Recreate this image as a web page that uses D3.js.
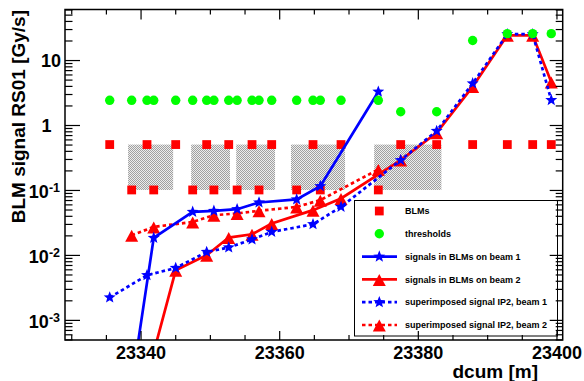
<!DOCTYPE html>
<html><head><meta charset="utf-8">
<script src="https://cdn.jsdelivr.net/npm/d3@7"></script>
<style>
html,body{margin:0;padding:0;background:#fff;}
svg{display:block;font-family:"Liberation Sans",Arial,Helvetica,sans-serif;font-weight:bold;}
</style>
</head><body>
<svg id="chart" width="584" height="381"></svg>
<script>
// ---- data ----
const blmDcum = [23335.55, 23338.72, 23340.93, 23341.90, 23345.07, 23347.52, 23349.54, 23350.58,
  23352.72, 23353.93, 23356.08, 23357.09, 23358.92, 23362.52, 23364.88, 23365.93, 23368.92,
  23374.30, 23377.53, 23382.72, 23387.91, 23392.91, 23396.57, 23399.25];
const blmLevel = [0.5, 0.1, 0.5, 0.1, 0.5, 0.1, 0.5, 0.1, 0.5, 0.1, 0.5, 0.1, 0.5, 0.1, 0.5, 0.1, 0.5,
  0.1, 0.5, 0.5, 0.5, 0.5, 0.5, 0.5];
const thresholds = [2.4, 2.4, 2.4, 2.4, 2.4, 2.4, 2.4, 2.4, 2.4, 2.4, 2.4, 2.4, 2.4, 2.4, 2.4, 2.4, 2.4,
  2.4, 1.6, 1.6, 20, 25.5, 25.5, 25.5];

const beam1Index = [1, 3, 5, 7, 9, 11, 13, 15, 17];
const signalBeam1 = [1.0e-4, 0.0183, 0.046, 0.0477, 0.0506, 0.0641, 0.0714, 0.1145, 3.25];

const beam2Index = [2, 4, 6, 8, 10, 12, 14, 16, 18, 19, 20, 21, 22, 23];
const signalBeam2 = [1.3e-4, 0.0058, 0.0099, 0.0185, 0.0208, 0.0305, 0.0489, 0.074, 0.288, 0.76, 3.9, 24, 24, 4.6];

const superBeam1Index = [0, 2, 4, 6, 8, 10, 12, 14, 16, 18, 19, 20, 21, 22, 23];
const superBeam1 = [0.00221, 0.00486, 0.0063, 0.0111, 0.0130, 0.0173, 0.0226, 0.0297, 0.0549, 0.288, 0.81, 4.37, 25, 25, 2.42];

const superBeam2Index = [1, 3, 5, 7, 9, 11, 13, 15, 17];
const superBeam2 = [0.0201, 0.0270, 0.0322, 0.0409, 0.0435, 0.0477, 0.0549, 0.0697, 0.207];

const boxStart = [23338.2, 23347.3, 23353.8, 23361.7, 23373.7];
const boxEnd   = [23344.7, 23352.9, 23359.4, 23369.5, 23383.4];
const boxLow = 0.1, boxHigh = 0.5;

const xTickLabels = [23340, 23360, 23380, 23400];
const yTickValues = [1e-3, 1e-2, 1e-1, 1, 10];
const yTickBase = ["10", "10", "10", "1", "10"];
const yTickExp  = ["-3", "-2", "-1", "", ""];

const legendLabels = ["BLMs", "thresholds", "signals in BLMs on beam 1", "signals in BLMs on beam 2",
  "superimposed signal IP2, beam 1", "superimposed signal IP2, beam 2"];

// ---- layout ----
const L = 65, R = 562.7, T = 9.5, B = 340;
const svg = d3.select("#chart");
const x = d3.scaleLinear().domain([23329.1, 23400.9]).range([L, R]);
const y = d3.scaleLog().domain([4.9e-4, 60]).range([B, T]);

const BLUE = "#0000ff", RED = "#ff0000", GREEN = "#00ff00";

const defs = svg.append("defs");
const pat = defs.append("pattern").attr("id", "hatch").attr("patternUnits", "userSpaceOnUse")
  .attr("width", 2).attr("height", 2);
pat.append("rect").attr("width", 2).attr("height", 2).attr("fill", "#ececec");
pat.append("rect").attr("width", 1).attr("height", 1).attr("fill", "#a0a0a0");
pat.append("rect").attr("x", 1).attr("y", 1).attr("width", 1).attr("height", 1).attr("fill", "#a0a0a0");
defs.append("clipPath").attr("id", "clip").append("rect")
  .attr("x", L).attr("y", T).attr("width", R - L).attr("height", B - T);

function starPath(ro, ri) {
  const pts = [];
  for (let i = 0; i < 10; i++) {
    const a = -Math.PI / 2 + i * Math.PI / 5;
    const r = i % 2 === 0 ? ro : ri;
    pts.push([r * Math.cos(a), r * Math.sin(a)]);
  }
  return "M" + pts.map(p => p[0].toFixed(2) + "," + p[1].toFixed(2)).join("L") + "Z";
}
const STAR = starPath(6.3, 2.7);
const TRI = "M0,-5.5L6.5,6.5L-6.5,6.5Z";

const plot = svg.append("g").attr("clip-path", "url(#clip)");

// boxes
plot.selectAll("rect.box").data(boxStart).join("rect").attr("class", "box")
  .attr("x", (d, i) => x(d)).attr("width", (d, i) => x(boxEnd[i]) - x(d))
  .attr("y", y(boxHigh)).attr("height", y(boxLow) - y(boxHigh))
  .attr("fill", "url(#hatch)");

// BLM squares
plot.selectAll("rect.blm").data(blmDcum).join("rect").attr("class", "blm")
  .attr("x", d => x(d) - 4.4).attr("y", (d, i) => y(blmLevel[i]) - 4.4)
  .attr("width", 8.8).attr("height", 8.8).attr("fill", RED);

function series(idx, vals) { return idx.map((k, i) => ({ x: blmDcum[k], v: vals[i] })); }
const line = d3.line().x(d => x(d.x)).y(d => y(d.v));

const seriesDefs = [
  { data: series(beam2Index, signalBeam2), color: RED, dash: null, marker: TRI },
  { data: series(superBeam2Index, superBeam2), color: RED, dash: "3.5,3", marker: TRI },
  { data: series(beam1Index, signalBeam1), color: BLUE, dash: null, marker: STAR },
  { data: series(superBeam1Index, superBeam1), color: BLUE, dash: "3.5,3", marker: STAR }
];
seriesDefs.forEach(s => {
  plot.append("path").datum(s.data).attr("d", line).attr("fill", "none")
    .attr("stroke", s.color).attr("stroke-width", 2.7)
    .attr("stroke-dasharray", s.dash);
  plot.selectAll(null).data(s.data.filter(d => d.v >= y.domain()[0])).join("path")
    .attr("d", s.marker).attr("transform", d => `translate(${x(d.x)},${y(d.v)})`)
    .attr("fill", s.color);
});

// thresholds
plot.selectAll("circle.thr").data(blmDcum).join("circle").attr("class", "thr")
  .attr("cx", d => x(d)).attr("cy", (d, i) => y(thresholds[i])).attr("r", 4.7).attr("fill", GREEN);

// legend
const lg = svg.append("g");
lg.append("rect").attr("x", 354.5).attr("y", 200.5).attr("width", 203).attr("height", 135.5)
  .attr("fill", "#fff").attr("stroke", "#000").attr("stroke-width", 1);
const legY = i => 211 + i * 22.8;
legendLabels.forEach((t, i) => {
  lg.append("text").attr("x", 405).attr("y", legY(i)).attr("dy", "0.35em")
    .attr("font-size", 9).attr("fill", "#000").text(t);
});
lg.append("rect").attr("x", 379.3 - 4.4).attr("y", legY(0) - 4.4).attr("width", 8.8).attr("height", 8.8).attr("fill", RED);
lg.append("circle").attr("cx", 379.3).attr("cy", legY(1)).attr("r", 4.7).attr("fill", GREEN);
[[2, BLUE, null, STAR], [3, RED, null, TRI], [4, BLUE, "3.5,3", STAR], [5, RED, "3.5,3", TRI]].forEach(([i, c, dash, m]) => {
  lg.append("line").attr("x1", 362).attr("x2", 397).attr("y1", legY(i)).attr("y2", legY(i))
    .attr("stroke", c).attr("stroke-width", 2.7).attr("stroke-dasharray", dash);
  lg.append("path").attr("d", m).attr("transform", `translate(379.3,${legY(i)})`).attr("fill", c);
});

// axes
const xMinor = d3.range(23330, 23401, 5).filter(v => !xTickLabels.includes(v));
const yMinor = [];
for (let e = -4; e <= 1; e++) for (let k = 2; k <= 9; k++) {
  const v = k * Math.pow(10, e);
  if (v >= y.domain()[0] && v <= y.domain()[1]) yMinor.push(v);
}
function clean(g) { g.select(".domain").remove(); g.selectAll("line").attr("stroke", "#000").attr("stroke-width", 1.2); }

svg.append("g").attr("transform", `translate(0,${B})`)
  .call(d3.axisBottom(x).tickValues(xMinor).tickSize(-5).tickFormat("")).call(clean);
svg.append("g").attr("transform", `translate(0,${T})`)
  .call(d3.axisTop(x).tickValues(xMinor).tickSize(-5).tickFormat("")).call(clean);
svg.append("g").attr("transform", `translate(0,${T})`)
  .call(d3.axisTop(x).tickValues(xTickLabels).tickSize(-10).tickFormat("")).call(clean);
const xb = svg.append("g").attr("transform", `translate(0,${B})`)
  .call(d3.axisBottom(x).tickValues(xTickLabels).tickSize(-9).tickFormat(d3.format("d"))).call(clean);
xb.selectAll("text").attr("y", 19).attr("dy", null).attr("font-size", 18)
  .attr("font-family", null).attr("fill", "#000");

svg.append("g").attr("transform", `translate(${L},0)`)
  .call(d3.axisLeft(y).tickValues(yMinor).tickSize(-7.5).tickFormat("")).call(clean);
svg.append("g").attr("transform", `translate(${R},0)`)
  .call(d3.axisRight(y).tickValues(yMinor).tickSize(-7).tickFormat("")).call(clean);
svg.append("g").attr("transform", `translate(${R},0)`)
  .call(d3.axisRight(y).tickValues(yTickValues).tickSize(-13).tickFormat("")).call(clean);
const yl = svg.append("g").attr("transform", `translate(${L},0)`)
  .call(d3.axisLeft(y).tickValues(yTickValues).tickSize(-15).tickFormat("")).call(clean);
yl.selectAll("g.tick").each(function(d, i) {
  const t = d3.select(this).select("text");
  t.text(null).attr("dy", null).attr("font-size", 18).attr("font-family", null).attr("fill", "#000")
    .attr("text-anchor", "end");
  if (yTickExp[i]) {
    t.attr("x", -5).attr("y", 7.5);
    t.append("tspan").text(yTickBase[i]);
    t.append("tspan").attr("font-size", 12.5).attr("dy", -6).text(yTickExp[i]);
  } else {
    t.attr("x", yTickBase[i] === "1" ? -13.5 : -4).attr("y", 6.3).text(yTickBase[i]);
  }
});

// frame
svg.append("rect").attr("x", L).attr("y", T).attr("width", R - L).attr("height", B - T)
  .attr("fill", "none").attr("stroke", "#000").attr("stroke-width", 1.5);

// titles
svg.append("text").attr("x", 538).attr("y", 378).attr("text-anchor", "end")
  .attr("font-size", 19).text("dcum [m]");
svg.append("text").attr("transform", "translate(25,10) rotate(-90)").attr("text-anchor", "end")
  .attr("font-size", 19).text("BLM signal RS01 [Gy/s]");
</script>
</body></html>
